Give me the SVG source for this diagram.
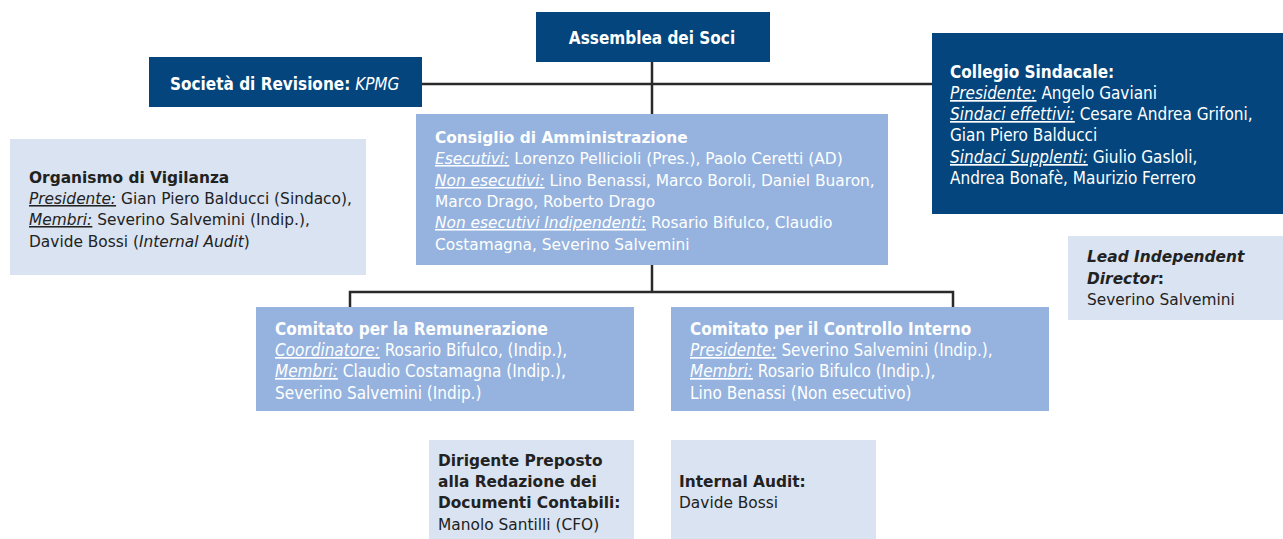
<svg xmlns="http://www.w3.org/2000/svg" width="1283" height="539" viewBox="0 0 1283 539">
<style>
.dark{fill:#03457c}
.mid{fill:#95b3de}
.light{fill:#d9e3f1}
.v{font-family:"DejaVu Sans",Verdana,sans-serif;font-size:15.4px}
.c{font-family:"DejaVu Sans Condensed","DejaVu Sans",sans-serif;font-stretch:condensed;font-size:17px}
.w{fill:#ffffff}
.k{fill:#222222}
.b{font-weight:bold}
.i{font-style:italic}
.u{font-style:italic;text-decoration:underline}
.ln{stroke:#2a2a2a;stroke-width:2.5;fill:none}
</style>
<g id="connectors">
<path class="ln" d="M652 62V114M422 84H932M652 265V292M350 307V292H953V307"/>
</g>
<g id="assemblea">
<rect class="dark" x="536" y="12" width="234" height="50"/>
<text class="c w b" x="652" y="44" text-anchor="middle">Assemblea dei Soci</text>
</g>
<g id="societa">
<rect class="dark" x="149" y="57" width="273" height="50"/>
<text class="c w" x="170" y="90"><tspan class="b">Società di Revisione:</tspan> <tspan class="i">KPMG</tspan></text>
</g>
<g id="collegio">
<rect class="dark" x="932" y="33" width="351" height="181"/>
<text class="c w" x="950" y="78"><tspan class="b">Collegio Sindacale:</tspan></text>
<text class="c w" x="950" y="99"><tspan class="u">Presidente:</tspan> Angelo Gaviani</text>
<text class="c w" x="950" y="120"><tspan class="u">Sindaci effettivi:</tspan> Cesare Andrea Grifoni,</text>
<text class="c w" x="950" y="141">Gian Piero Balducci</text>
<text class="c w" x="950" y="163"><tspan class="u">Sindaci Supplenti:</tspan> Giulio Gasloli,</text>
<text class="c w" x="950" y="184">Andrea Bonafè, Maurizio Ferrero</text>
</g>
<g id="consiglio">
<rect class="mid" x="416" y="114" width="472" height="151"/>
<text class="v w b" x="435" y="143">Consiglio di Amministrazione</text>
<text class="v w" x="435" y="164"><tspan class="u">Esecutivi:</tspan> Lorenzo Pellicioli (Pres.), Paolo Ceretti (AD)</text>
<text class="v w" x="435" y="186"><tspan class="u">Non esecutivi:</tspan> Lino Benassi, Marco Boroli, Daniel Buaron,</text>
<text class="v w" x="435" y="207">Marco Drago, Roberto Drago</text>
<text class="v w" x="435" y="228"><tspan class="u">Non esecutivi Indipendenti</tspan><tspan style="text-decoration:underline">:</tspan> Rosario Bifulco, Claudio</text>
<text class="v w" x="435" y="250">Costamagna, Severino Salvemini</text>
</g>
<g id="organismo">
<rect class="light" x="10" y="139" width="356" height="136"/>
<text class="v k b" x="29" y="183">Organismo di Vigilanza</text>
<text class="v k" x="29" y="204"><tspan class="u">Presidente:</tspan> Gian Piero Balducci (Sindaco),</text>
<text class="v k" x="29" y="225"><tspan class="u">Membri:</tspan> Severino Salvemini (Indip.),</text>
<text class="v k" x="29" y="247">Davide Bossi (<tspan class="i">Internal Audit</tspan>)</text>
</g>
<g id="lead">
<rect class="light" x="1068" y="236" width="215" height="84"/>
<text class="v k b" x="1087" y="262"><tspan class="i">Lead Independent</tspan></text>
<text class="v k b" x="1087" y="284"><tspan class="i">Director</tspan>:</text>
<text class="v k" x="1087" y="305">Severino Salvemini</text>
</g>
<g id="remunerazione">
<rect class="mid" x="256" y="307" width="378" height="104"/>
<text class="c w b" x="275" y="335">Comitato per la Remunerazione</text>
<text class="c w" x="275" y="356"><tspan class="u">Coordinatore:</tspan> Rosario Bifulco, (Indip.),</text>
<text class="c w" x="275" y="377"><tspan class="u">Membri:</tspan> Claudio Costamagna (Indip.),</text>
<text class="c w" x="275" y="399">Severino Salvemini (Indip.)</text>
</g>
<g id="controllo">
<rect class="mid" x="671" y="307" width="378" height="104"/>
<text class="c w b" x="690" y="335">Comitato per il Controllo Interno</text>
<text class="c w" x="690" y="356"><tspan class="u">Presidente:</tspan> Severino Salvemini (Indip.),</text>
<text class="c w" x="690" y="377"><tspan class="u">Membri:</tspan> Rosario Bifulco (Indip.),</text>
<text class="c w" x="690" y="399">Lino Benassi (Non esecutivo)</text>
</g>
<g id="dirigente">
<rect class="light" x="429" y="440" width="205" height="99"/>
<text class="v k b" x="438" y="466">Dirigente Preposto</text>
<text class="v k b" x="438" y="487">alla Redazione dei</text>
<text class="v k b" x="438" y="508">Documenti Contabili:</text>
<text class="v k" x="438" y="530">Manolo Santilli (CFO)</text>
</g>
<g id="internal-audit">
<rect class="light" x="671" y="440" width="205" height="99"/>
<text class="v k b" x="679" y="487">Internal Audit:</text>
<text class="v k" x="679" y="508">Davide Bossi</text>
</g>
</svg>
